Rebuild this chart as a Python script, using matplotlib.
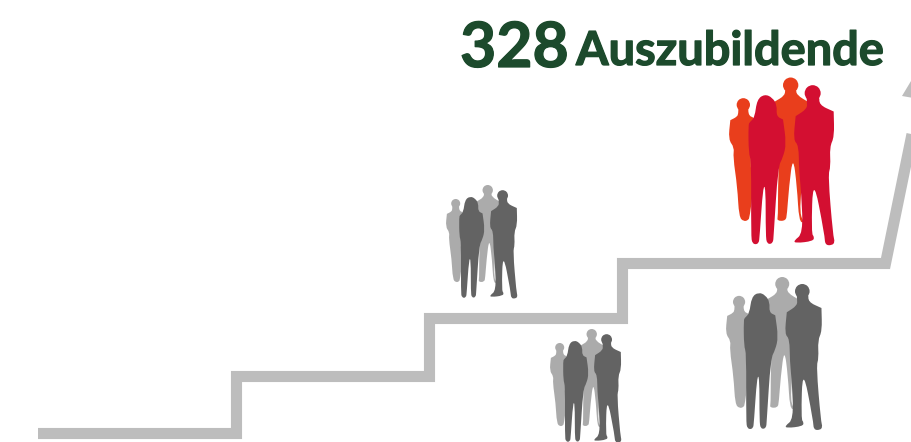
import matplotlib
matplotlib.use('Agg')
import matplotlib.pyplot as plt
import matplotlib.patheffects as pe
from matplotlib.patches import Polygon, Circle, PathPatch
from matplotlib.path import Path

# === Textos ===
numero = "328"
etiqueta = "Auszubildende"

# === Escalera (pixeles de la imagen) ===
escalera_x = [38, 236.5, 236.5, 429.5, 429.5, 622.5, 622.5, 885.5, 919]
escalera_y = [433.5, 433.5, 376.5, 376.5, 318.5, 318.5, 263.5, 263.5, 100]
punta_x = [902, 925, 914]
punta_y = [96, 100, 76]

# === Siluetas, dibujadas una vez y luego escaladas ===
# un punto repetido deja la esquina viva
mujer_atras = [(116, 140), (146, 140), (146, 160), (152, 168), (152, 168), (168, 176), (164, 250),
               (150, 300), (162, 380), (150, 470), (146, 480), (132, 484), (118, 470),
               (113, 380), (100, 290), (104, 262), (86, 238), (92, 180), (92, 180), (112, 170), (116, 160)]
hombre_atras = [(256, 85), (290, 85), (290, 104), (330, 128), (330, 128), (332, 200), (302, 280),
                (306, 380), (300, 460), (314, 488), (298, 484), (292, 380), (280, 285), (268, 380),
                (262, 462), (258, 482), (232, 482), (235, 468), (235, 380), (238, 300), (224, 125),
                (224, 125), (256, 106)]
mujer_frente = [(195, 102), (172, 118), (165, 172), (150, 186), (146, 194), (147, 280), (155, 302), (154, 525),
                (158, 552), (177, 552), (180, 528), (190, 380), (198, 380), (198, 525), (202, 552),
                (220, 550), (222, 525), (235, 320), (250, 292), (260, 250), (250, 178), (250, 178), (230, 168),
                (232, 135), (218, 112)]
hombre_frente = [(320, 105), (360, 105), (358, 134), (402, 154), (402, 154), (404, 230), (390, 260), (393, 320),
                 (385, 345), (400, 525), (406, 546), (396, 556), (376, 554), (375, 525), (340, 345),
                 (335, 520), (344, 530), (340, 543), (288, 549), (282, 542), (310, 520), (305, 400),
                 (298, 330), (297, 255), (281, 240), (288, 168), (288, 168), (322, 146), (322, 125)]
# cabezas: x, y, radio
cabeza_mujer = (131, 134, 20)
cabeza_hombre = (273, 75, 23)
cabeza_frente = (339, 99, 24)

# === Grupos: izquierda, arriba, escala, color atras, color frente ===
grupos = [
    (446, 185, 0.2255, "#ababab", "#636363"),
    (550, 329, 0.2255, "#ababab", "#636363"),
    (726, 277, 0.304, "#ababab", "#636363"),
    (729, 77.5, 1 / 3, "#e93e1c", "#d30f31"),
]

fig = plt.figure(figsize=(9.12, 4.42), dpi=100)
ax = fig.add_axes([0, 0, 1, 1])
ax.set_xlim(0, 912)
ax.set_ylim(442, 0)
ax.axis("off")

gris = "#bdbdbd"
ax.plot(escalera_x, escalera_y, color=gris, lw=8.0, solid_joinstyle="miter", solid_capstyle="butt")
ax.add_patch(Polygon(list(zip(punta_x, punta_y)), closed=True, color=gris, lw=0))


def suavizar(puntos):
    # curvas cuadraticas entre puntos medios, redondea las esquinas
    n = len(puntos)
    medio = lambda a, b: ((a[0] + b[0]) / 2, (a[1] + b[1]) / 2)
    verts = [medio(puntos[-1], puntos[0])]
    codes = [Path.MOVETO]
    for i in range(n):
        verts += [puntos[i], medio(puntos[i], puntos[(i + 1) % n])]
        codes += [Path.CURVE3, Path.CURVE3]
    return Path(verts, codes)


def dibujar_grupo(izq, arriba, escala, c_atras, c_frente):
    def pts(forma):
        return [(izq + (x - 88) * escala, arriba + (y - 52) * escala) for x, y in forma]

    def cabeza(c, color):
        x, y = pts([c[:2]])[0]
        ax.add_patch(Circle((x, y), c[2] * escala, facecolor=color, edgecolor="none", lw=0))

    cabeza(cabeza_mujer, c_atras)
    cabeza(cabeza_hombre, c_atras)
    for forma in (mujer_atras, hombre_atras):
        ax.add_patch(PathPatch(suavizar(pts(forma)), facecolor=c_atras, edgecolor="none", lw=0))
    cabeza(cabeza_frente, c_frente)
    for forma in (mujer_frente, hombre_frente):
        ax.add_patch(PathPatch(suavizar(pts(forma)), facecolor=c_frente, edgecolor="none", lw=0))


for g in grupos:
    dibujar_grupo(*g)

verde = "#1c4a2c"
grueso = [pe.withStroke(linewidth=0.9, foreground=verde)]
ax.text(460, 67, numero, color=verde, fontsize=45, fontweight="bold", family="Lato", va="baseline", ha="left",
        path_effects=grueso)
ax.text(576, 65, etiqueta, color=verde, fontsize=33.8, fontweight="bold", family="Lato", va="baseline", ha="left",
        path_effects=grueso)

fig.savefig("out.png", dpi=100)
